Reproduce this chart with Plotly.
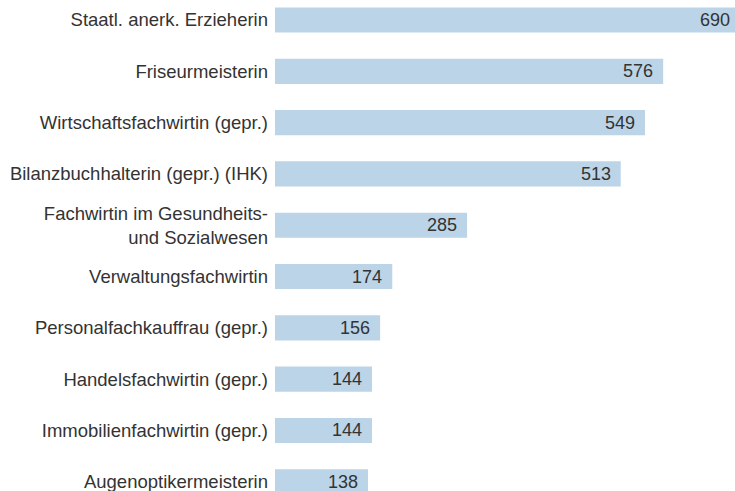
import plotly.graph_objects as go

berufe = [
    "Staatl. anerk. Erzieherin",
    "Friseurmeisterin",
    "Wirtschaftsfachwirtin (gepr.)",
    "Bilanzbuchhalterin (gepr.) (IHK)",
    "Fachwirtin im Gesundheits-<br>und Sozialwesen",
    "Verwaltungsfachwirtin",
    "Personalfachkauffrau (gepr.)",
    "Handelsfachwirtin (gepr.)",
    "Immobilienfachwirtin (gepr.)",
    "Augenoptikermeisterin",
]
anzahl = [690, 576, 549, 513, 285, 174, 156, 144, 144, 138]

BAR_COLOR = "#bcd4e7"
TEXT_COLOR = "#333333"
FONT = "Liberation Sans, Arial, sans-serif"

pos = list(range(len(berufe)))

fig = go.Figure(
    go.Bar(
        x=anzahl,
        y=pos,
        orientation="h",
        marker=dict(color=BAR_COLOR, line=dict(width=0)),
        width=0.49,
        hoverinfo="x+y",
    )
)

# value labels at the inner end of each bar
for yi, v in zip(pos, anzahl):
    fig.add_annotation(
        x=v, y=yi, xref="x", yref="y",
        text=str(v), showarrow=False,
        xanchor="right", yanchor="middle", xshift=-8,
        font=dict(family=FONT, size=18, color=TEXT_COLOR),
    )

# figure is a little wider than the window: the longest bar runs off the right edge
fig.update_layout(
    width=740,
    height=491,
    margin=dict(l=275, r=0, t=0, b=0),
    paper_bgcolor="white",
    plot_bgcolor="white",
    showlegend=False,
    font=dict(family=FONT, size=18, color=TEXT_COLOR),
    xaxis=dict(
        range=[0, 690],
        visible=False,
        showgrid=False,
        zeroline=False,
        fixedrange=True,
    ),
    yaxis=dict(
        tickmode="array",
        tickvals=pos,
        ticktext=berufe,
        range=[9.18, -0.39],
        showgrid=False,
        zeroline=False,
        showline=False,
        ticks="",
        ticklabelstandoff=6,
        ticklabeloverflow="allow",
        tickfont=dict(family=FONT, size=18.5, color=TEXT_COLOR),
        fixedrange=True,
    ),
)

fig.write_html(
    "out.html",
    config={"displayModeBar": False},
    post_script="document.body.style.margin='0';document.body.style.overflow='hidden';",
)
